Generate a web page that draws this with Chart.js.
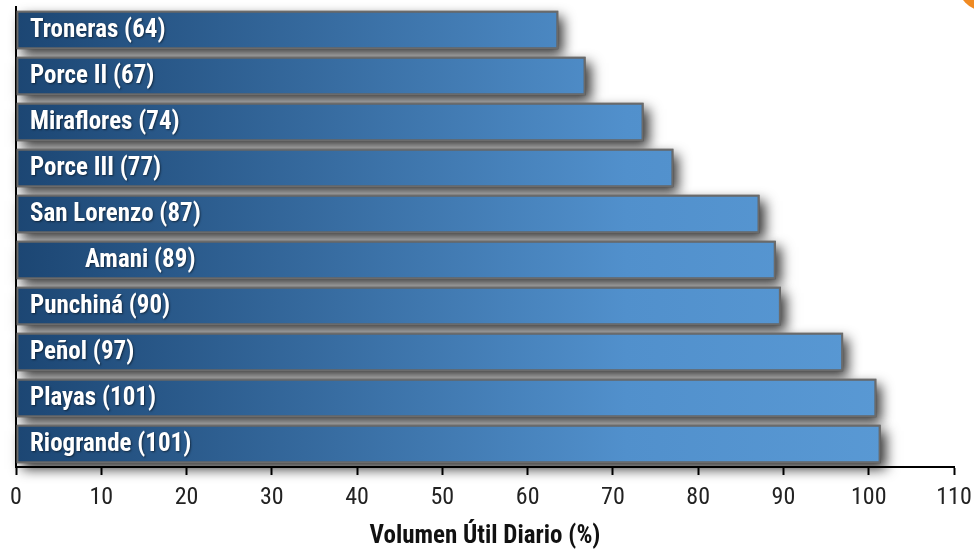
<!DOCTYPE html>
<html>
<head>
<meta charset="utf-8">
<style>
  html, body { margin: 0; padding: 0; background: #fff; }
  #wrap { width: 974px; height: 552px; position: relative; }
</style>
</head>
<body>
<div id="wrap"><canvas id="embalsesChart"></canvas></div>

<script src="https://cdn.jsdelivr.net/npm/chart.js"></script>
<script>
// Datos del gráfico
const embalses = ['Troneras', 'Porce II', 'Miraflores', 'Porce III', 'San Lorenzo', 'Amani', 'Punchiná', 'Peñol', 'Playas', 'Riogrande'];
const volumen = [63.6, 66.8, 73.6, 77.1, 87.2, 89.1, 89.7, 97.0, 100.9, 101.4];
const etiquetas = ['Troneras (64)', 'Porce II (67)', 'Miraflores (74)', 'Porce III (77)', 'San Lorenzo (87)', 'Amani (89)', 'Punchiná (90)', 'Peñol (97)', 'Playas (101)', 'Riogrande (101)'];
const ticksX = [0, 10, 20, 30, 40, 50, 60, 70, 80, 90, 100, 110];

const fuenteNarrow = '"Liberation Sans Narrow", "Arial Narrow", "Roboto Condensed", "Liberation Sans", sans-serif';

// gradiente por barra (oscuro a la izquierda, claro a la derecha)
function barGradient(context) {
  const chart = context.chart;
  const el = context.element;
  if (!chart.chartArea || !el) return '#3a74ad';
  const x0 = chart.scales.x.getPixelForValue(0);
  const x1 = el.x || chart.chartArea.right;
  const g = chart.ctx.createLinearGradient(x0, 0, Math.max(x1, x0 + 1), 0);
  g.addColorStop(0, '#1c4673');
  g.addColorStop(0.65, '#5190cc');
  g.addColorStop(1, '#5b9bd6');
  return g;
}

// sombra de las barras (se pinta debajo, usando la geometría de cada barra)
const sombraPlugin = {
  id: 'sombra',
  beforeDatasetsDraw(chart) {
    const ctx = chart.ctx;
    const meta = chart.getDatasetMeta(0);
    ctx.save();
    ctx.shadowColor = 'rgba(0,0,0,0.8)';
    ctx.shadowBlur = 12;
    ctx.shadowOffsetX = 5;
    ctx.shadowOffsetY = 6;
    ctx.fillStyle = '#555';
    meta.data.forEach(bar => {
      const p = bar.getProps(['x', 'y', 'base', 'height'], true);
      ctx.fillRect(p.base, p.y - p.height / 2, p.x - p.base, p.height);
    });
    ctx.restore();
  }
};

// etiquetas dentro de las barras + adorno naranja
const etiquetasPlugin = {
  id: 'etiquetas',
  afterDatasetsDraw(chart) {
    const ctx = chart.ctx;
    const meta = chart.getDatasetMeta(0);
    const left = chart.chartArea.left;
    ctx.save();
    ctx.font = 'bold 25px ' + fuenteNarrow;
    ctx.fillStyle = '#ffffff';
    ctx.textBaseline = 'middle';
    ctx.shadowColor = 'rgba(0,0,0,0.5)';
    ctx.shadowBlur = 2;
    ctx.shadowOffsetX = 1;
    ctx.shadowOffsetY = 1;
    meta.data.forEach((bar, i) => {
      const indent = embalses[i] === 'Amani' ? 69 : 14;
      ctx.fillText(etiquetas[i], left + indent, bar.y + 1);
    });
    ctx.restore();

    // esquina naranja
    ctx.save();
    ctx.fillStyle = '#f08a22';
    ctx.beginPath();
    ctx.arc(988, -20, 32, 0, Math.PI * 2);
    ctx.fill();
    ctx.restore();
  }
};

const ctx = document.getElementById('embalsesChart').getContext('2d');
new Chart(ctx, {
  type: 'bar',
  data: {
    labels: embalses,
    datasets: [{
      data: volumen,
      backgroundColor: barGradient,
      borderColor: '#6b6b6b',
      borderWidth: 2,
      borderSkipped: false,
      categoryPercentage: 1,
      barPercentage: 0.84
    }]
  },
  options: {
    indexAxis: 'y',
    responsive: true,
    maintainAspectRatio: false,
    animation: false,
    layout: { padding: { top: 7, right: 0, left: 0, bottom: 0 } },
    plugins: {
      legend: { display: false },
      tooltip: { enabled: false }
    },
    scales: {
      x: {
        min: 0,
        max: 110,
        afterBuildTicks: s => { s.ticks = ticksX.map(v => ({ value: v })); },
        afterFit: s => { s.height = 85; s.paddingRight = 20; },
        grid: {
          display: true,
          drawOnChartArea: false,
          drawTicks: true,
          tickLength: 8,
          tickWidth: 2,
          tickColor: '#000'
        },
        border: { display: true, color: '#000', width: 2 },
        ticks: {
          color: '#222',
          padding: 9,
          font: { family: fuenteNarrow, size: 24 }
        },
        title: {
          display: true,
          text: 'Volumen Útil Diario (%)',
          color: '#111',
          padding: { top: 6, bottom: 0 },
          font: { family: fuenteNarrow, size: 25, weight: 'bold' }
        }
      },
      y: {
        afterFit: s => { s.width = 16; },
        grid: { display: false },
        border: { display: true, color: '#000', width: 2 },
        ticks: { display: false }
      }
    }
  },
  plugins: [sombraPlugin, etiquetasPlugin]
});
</script>
</body>
</html>
